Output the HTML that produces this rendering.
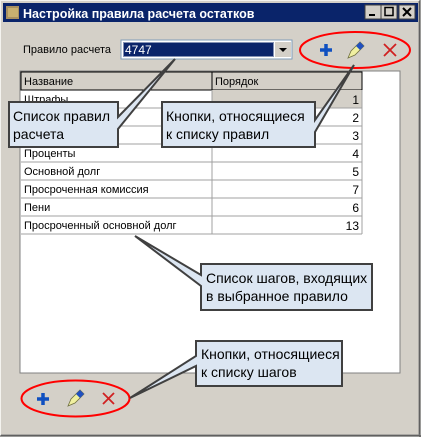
<!DOCTYPE html>
<html><head><meta charset="utf-8"><style>
html,body{margin:0;padding:0;background:#d4d0c8;}
svg{display:block;}
text{font-family:"Liberation Sans","DejaVu Sans",sans-serif;}
</style></head><body>
<svg width="421" height="437" viewBox="0 0 421 437" xmlns="http://www.w3.org/2000/svg">
<rect x="0" y="0" width="421" height="437" fill="#d4d0c8"/>
<rect x="0.5" y="0.5" width="420" height="436" fill="none" stroke="#f4f3ef"/>
<line x1="420" y1="0" x2="420" y2="437" stroke="#404040"/>
<line x1="0" y1="436" x2="421" y2="436" stroke="#404040"/>
<line x1="419" y1="1" x2="419" y2="435" stroke="#808080"/>
<line x1="1" y1="435" x2="420" y2="435" stroke="#808080"/>
<rect x="3" y="3" width="415" height="19" fill="#0a246a"/>
<rect x="6" y="6" width="13" height="13" fill="#a89060"/>
<rect x="8" y="8" width="10" height="9" fill="#c8b070"/>
<text x="23" y="18" font-size="12.5" font-weight="bold" fill="#fff">Настройка правила расчета остатков</text>
<g>
<rect x="365" y="5" width="16" height="14" fill="#d4d0c8" stroke="#404040"/>
<rect x="369" y="14" width="6" height="2" fill="#000"/>
<rect x="381" y="5" width="16" height="14" fill="#d4d0c8" stroke="#404040"/>
<rect x="385" y="7.5" width="8" height="8" fill="none" stroke="#000" stroke-width="1.5"/>
<rect x="399" y="5" width="16" height="14" fill="#d4d0c8" stroke="#404040"/>
<path d="M403 8 L411 16 M411 8 L403 16" stroke="#000" stroke-width="2"/>
</g>
<text x="23" y="53" font-size="11" fill="#000">Правило расчета</text>
<rect x="121" y="40" width="171" height="19" fill="#fff" stroke="#7f9db9"/>
<rect x="123" y="42" width="151" height="15" fill="#0a246a"/>
<rect x="123.5" y="42.5" width="150" height="14" fill="none" stroke="#fff" stroke-dasharray="1,1"/>
<text x="125" y="54" font-size="12" fill="#fff">4747</text>
<rect x="275" y="42" width="16" height="15" fill="#d4d0c8"/>
<path d="M279 48 L287 48 L283 52 Z" fill="#000"/>
<rect x="20" y="71" width="380" height="302" fill="#fff" stroke="#808080"/>
<rect x="21" y="72" width="341" height="18" fill="#d4d0c8" stroke="#000"/>
<line x1="212" y1="72" x2="212" y2="90" stroke="#000"/>
<text x="24" y="85" font-size="11">Название</text>
<text x="215" y="85" font-size="11">Порядок</text>
<rect x="212" y="90" width="150" height="18" fill="#d4d0c8"/>
<g stroke="#a0a0a0" fill="none">
<line x1="21" y1="108" x2="362" y2="108"/>
<line x1="21" y1="126" x2="362" y2="126"/>
<line x1="21" y1="144" x2="362" y2="144"/>
<line x1="21" y1="162" x2="362" y2="162"/>
<line x1="21" y1="180" x2="362" y2="180"/>
<line x1="21" y1="198" x2="362" y2="198"/>
<line x1="21" y1="216" x2="362" y2="216"/>
<line x1="21" y1="234" x2="362" y2="234"/>
<line x1="212" y1="90" x2="212" y2="234"/>
<line x1="362" y1="90" x2="362" y2="234"/>
</g>
<g font-size="11" fill="#000">
<text x="24" y="103">Штрафы</text>
<text x="24" y="157">Проценты</text>
<text x="24" y="175">Основной долг</text>
<text x="24" y="193">Просроченная комиссия</text>
<text x="24" y="211">Пени</text>
<text x="24" y="229">Просроченный основной долг</text>
</g>
<g font-size="12" fill="#000" text-anchor="end">
<text x="359" y="104">1</text><text x="359" y="122">2</text><text x="359" y="140">3</text>
<text x="359" y="158">4</text><text x="359" y="176">5</text><text x="359" y="194">7</text>
<text x="359" y="212">6</text><text x="359" y="230">13</text>
</g>
<path d="M320 50 h12 M326 44 v12" stroke="#1050c0" stroke-width="3.5"/>
<path d="M348 58 L351 51 L360 42 L364 46 L355 55 Z" fill="#f0f0a0" stroke="#707040" stroke-width="0.8"/>
<path d="M356 46 L360 42 L364 46 L360 50 Z" fill="#2050c0"/>
<path d="M384 44 L396 56 M396 44 L384 56" stroke="#d02020" stroke-width="1.8"/>
<ellipse cx="355" cy="50" rx="55" ry="18" fill="none" stroke="#ff0000" stroke-width="2"/>
<path d="M37 399 h12 M43 393 v12" stroke="#1050c0" stroke-width="3.5"/>
<path d="M68 406 L71 399 L80 390 L84 394 L75 403 Z" fill="#f0f0a0" stroke="#707040" stroke-width="0.8"/>
<path d="M76 394 L80 390 L84 394 L80 398 Z" fill="#2050c0"/>
<path d="M103 393 L114 404 M114 393 L103 404" stroke="#d02020" stroke-width="1.8"/>
<ellipse cx="75.5" cy="398.5" rx="54" ry="18" fill="none" stroke="#ff0000" stroke-width="2"/>
<g fill="#dce6f2" stroke="#404040" stroke-width="2">
<path d="M9 102 H118 V117 L175 59 L118 129 V147 H9 Z"/>
<path d="M162 102 H315 V120 L354 65 L315 132 V147 H162 Z"/>
<path d="M201 264 H372 V310 H201 V286 L135 236 L201 275 Z"/>
<path d="M196 341 H342 V386 H196 V366 L130 398 L196 356 Z"/>
</g>
<g font-size="14" fill="#000">
<text x="13" y="121">Список правил</text>
<text x="13" y="139">расчета</text>
<text x="166" y="121">Кнопки, относящиеся</text>
<text x="166" y="139">к списку правил</text>
<text x="206" y="283">Список шагов, входящих</text>
<text x="206" y="301">в выбранное правило</text>
<text x="201" y="359">Кнопки, относящиеся</text>
<text x="201" y="377">к списку шагов</text>
</g>
</svg>
</body></html>
